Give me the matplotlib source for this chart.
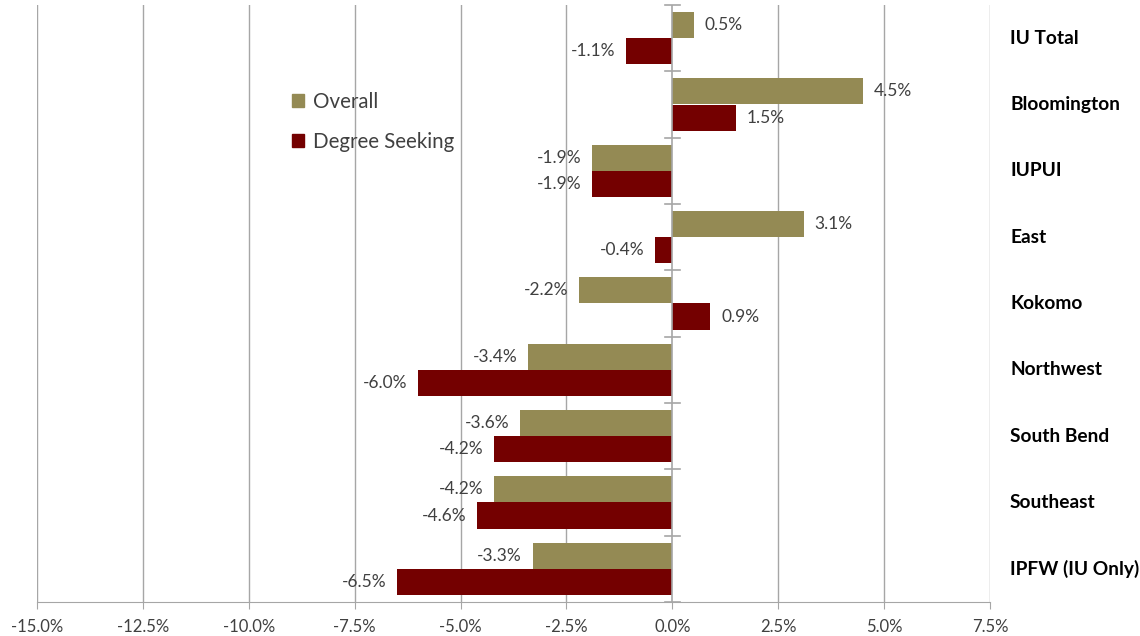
import numpy as np
import matplotlib.pyplot as plt
from matplotlib.patches import Patch

plt.rcParams['font.family'] = ['Lato', 'DejaVu Sans']

campuses = ["IU Total", "Bloomington", "IUPUI", "East", "Kokomo",
            "Northwest", "South Bend", "Southeast", "IPFW (IU Only)"]
overall = [0.5, 4.5, -1.9, 3.1, -2.2, -3.4, -3.6, -4.2, -3.3]
degree_seeking = [-1.1, 1.5, -1.9, -0.4, 0.9, -6.0, -4.2, -4.6, -6.5]
xticks = [-15.0, -12.5, -10.0, -7.5, -5.0, -2.5, 0.0, 2.5, 5.0, 7.5]

olive = "#948A54"
maroon = "#740000"
grid_c = "#A6A6A6"
text_c = "#404040"

fig = plt.figure(figsize=(11.4, 6.36), dpi=100)
ax = fig.add_axes([37 / 1140, 1 - 602 / 636, 953 / 1140, 597 / 636])

n = len(campuses)
y = np.arange(n)
h = 0.395

ax.barh(y - h / 2, overall, height=h, color=olive, zorder=3)
ax.barh(y + h / 2, degree_seeking, height=h, color=maroon, zorder=3)

# data labels
for yy, v in zip(y - h / 2, overall):
    ax.text(v + (0.25 if v >= 0 else -0.25), yy, f"{v:.1f}%",
            ha="left" if v >= 0 else "right", va="center",
            fontsize=12.5, color=text_c, zorder=4)
for yy, v in zip(y + h / 2, degree_seeking):
    ax.text(v + (0.25 if v >= 0 else -0.25), yy, f"{v:.1f}%",
            ha="left" if v >= 0 else "right", va="center",
            fontsize=12.5, color=text_c, zorder=4)

ax.set_xlim(-15, 7.5)
ax.set_ylim(n - 0.5, -0.5)
ax.set_xticks(xticks)
ax.set_xticklabels([f"{t:.1f}%" for t in xticks], fontsize=12, color=text_c)
ax.tick_params(axis="x", length=5, color=grid_c, pad=7)
ax.set_yticks([])

# gridlines
for t in xticks:
    if t != 0:
        ax.axvline(t, color=grid_c, lw=1, zorder=1)

# zero axis with category tick marks
ax.axvline(0, color=grid_c, lw=1.2, zorder=4)
for b in np.arange(n + 1) - 0.5:
    ax.plot([-0.17, 0.17], [b, b], color=grid_c, lw=1.2, zorder=4, clip_on=False)

for s in ["top", "right", "left"]:
    ax.spines[s].set_visible(False)
ax.spines["bottom"].set_color(grid_c)

# category labels on the right
for yy, name in zip(y, campuses):
    ax.text(1.021, yy, name, transform=ax.get_yaxis_transform(),
            ha="left", va="center", fontsize=13.8, fontweight="bold", color="black")

handles = [Patch(color=olive, label="Overall"), Patch(color=maroon, label="Degree Seeking")]
ax.legend(handles=handles, loc="upper left", bbox_to_anchor=(0.248, 0.885),
          frameon=False, fontsize=14.8, handlelength=0.6, handleheight=0.6,
          handletextpad=0.45, labelspacing=0.95, labelcolor=text_c)

fig.savefig("out.png", dpi=100)
